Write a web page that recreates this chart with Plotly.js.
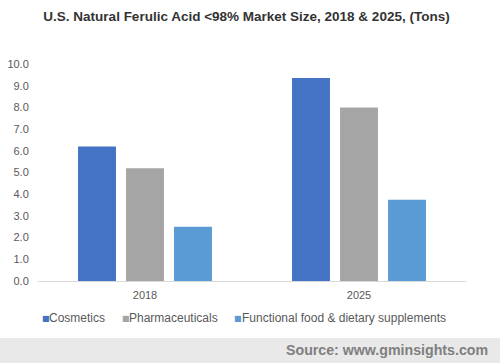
<!DOCTYPE html>
<html>
<head>
<meta charset="utf-8">
<script src="https://cdn.plot.ly/plotly-3.0.1.min.js"></script>
<style>html,body{margin:0;padding:0;background:#fff;}#chart{width:500px;height:363px;}</style>
</head>
<body>
<div id="chart"></div>
<script>
// Data
const years = ["2018", "2025"];
const seriesNames = ["Cosmetics", "Pharmaceuticals", "Functional food & dietary supplements"];
const cosmetics = [6.2, 9.35];
const pharmaceuticals = [5.2, 8.0];
const functionalFood = [2.5, 3.75];
const seriesColors = ["#4472c4", "#a5a5a5", "#5b9bd5"];
const yTicks = [0, 1, 2, 3, 4, 5, 6, 7, 8, 9, 10];
const titleText = "U.S. Natural Ferulic Acid <98% Market Size, 2018 & 2025, (Tons)";
const sourceText = "Source: www.gminsights.com";

const W = 500, H = 363;
const M = {l: 38, r: 34, t: 64, b: 82};
const plotW = W - M.l - M.r, plotH = H - M.t - M.b;
const px = x => (x - M.l) / plotW;
const py = y => (H - M.b - y) / plotH;

const values = [cosmetics, pharmaceuticals, functionalFood];
const traces = values.map((v, i) => ({
  type: "bar",
  x: years,
  y: v,
  name: seriesNames[i],
  marker: {color: seriesColors[i]},
  showlegend: false,
  hoverinfo: "none"
}));

const font = "Liberation Sans, Arial, sans-serif";
const legendMarkerX = [40, 120, 232];
const legendTextX = [47, 127, 240];
const legendY = py(318);
const annotations = [];
seriesNames.forEach((n, i) => {
  annotations.push({
    xref: "paper", yref: "paper", x: px(legendMarkerX[i]), y: legendY,
    xanchor: "left", yanchor: "middle", showarrow: false,
    text: "■", font: {family: "DejaVu Sans", size: 8, color: seriesColors[i]}
  });
  annotations.push({
    xref: "paper", yref: "paper", x: px(legendTextX[i]), y: legendY,
    xanchor: "left", yanchor: "middle", showarrow: false,
    text: n, font: {family: font, size: 12, color: "#595959"}
  });
});
annotations.push({
  xref: "paper", yref: "paper", x: px(490), y: py(350),
  xanchor: "right", yanchor: "middle", showarrow: false,
  text: "<b>" + sourceText + "</b>", font: {family: font, size: 14.2, color: "#7f7f7f"}
});

const layout = {
  width: W, height: H,
  margin: M,
  paper_bgcolor: "#ffffff", plot_bgcolor: "#ffffff",
  title: {
    text: "<b>" + titleText.replace("<", "&lt;") + "</b>",
    font: {family: font, size: 13.5, color: "#333333"},
    x: 246.5 / W, xanchor: "center", xref: "container",
    y: 1 - 16 / H, yanchor: "middle", yref: "container"
  },
  barmode: "group",
  bargap: 0.327,
  bargroupgap: 0.21,
  showlegend: false,
  xaxis: {
    type: "category",
    showgrid: false, zeroline: false,
    showline: true, linecolor: "#d9d9d9", linewidth: 1,
    ticks: "outside", ticklen: 4, tickcolor: "rgba(0,0,0,0)",
    tickfont: {family: font, size: 11, color: "#595959"},
    fixedrange: true
  },
  yaxis: {
    range: [0, 10],
    tickvals: yTicks,
    ticktext: yTicks.map(v => v.toFixed(1)),
    showgrid: false, zeroline: false, showline: false,
    ticks: "outside", ticklen: 6, tickcolor: "rgba(0,0,0,0)",
    tickfont: {family: font, size: 11, color: "#595959"},
    fixedrange: true
  },
  shapes: [{
    type: "rect", xref: "paper", yref: "paper", layer: "below",
    x0: px(0), x1: px(W), y0: py(H), y1: py(338),
    fillcolor: "#e9e9e9", line: {width: 0}
  }],
  annotations: annotations
};

Plotly.newPlot("chart", traces, layout, {staticPlot: true, displayModeBar: false});
</script>
</body>
</html>
